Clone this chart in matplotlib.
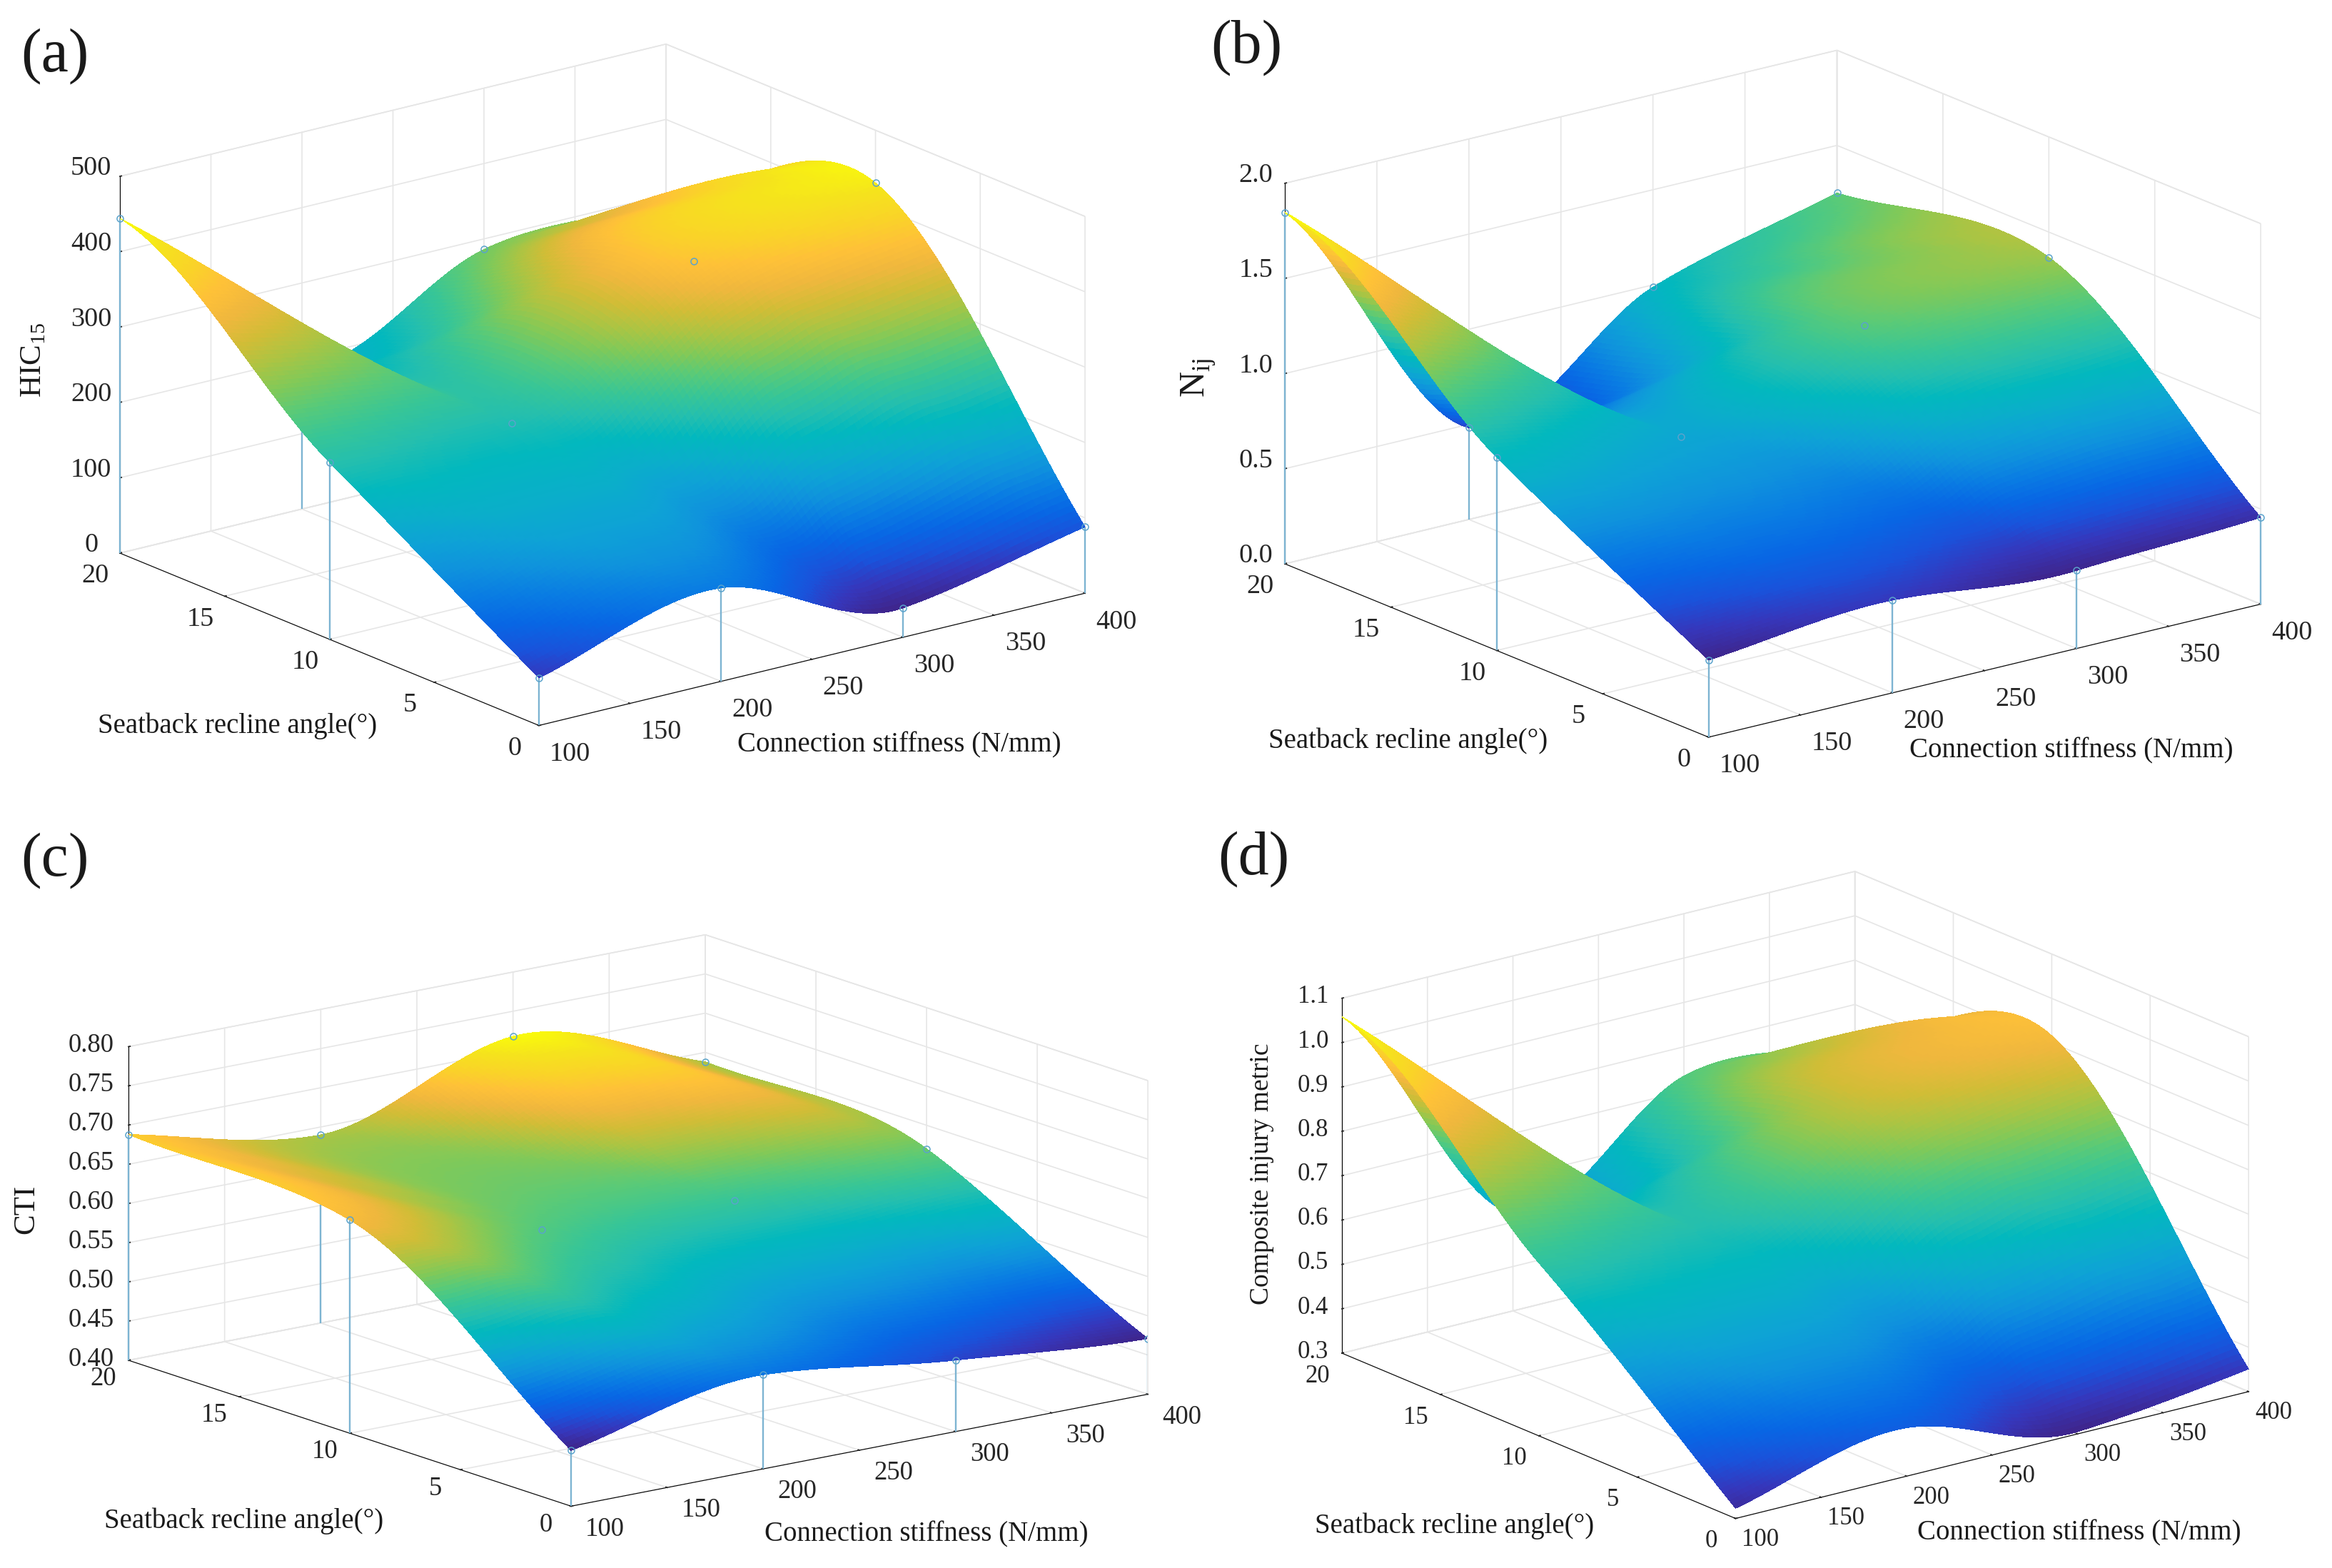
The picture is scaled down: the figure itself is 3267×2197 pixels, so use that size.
"""Four 3D response surfaces (HIC15, Nij, CTI, composite) over stiffness and recline angle."""
import numpy as np
import matplotlib
matplotlib.use("Agg")
import matplotlib.pyplot as plt
import matplotlib.tri as mtri
from matplotlib.colors import LinearSegmentedColormap
from mpl_toolkits.mplot3d import proj3d

plt.rcParams["font.family"] = ["Liberation Serif", "DejaVu Sans"]
plt.rcParams["mathtext.fontset"] = "custom"
plt.rcParams["mathtext.rm"] = "Liberation Serif"

W, H = 3267, 2197
DPI = 100
MESH = 130

# design points
stiffness = [100, 200, 300, 400]
recline = [0, 10, 20]
# rows = recline 0, 10, 20 ; columns = stiffness
hic15 = [[63, 124, 39, 88],
         [235, 228, 385, 430],
         [444, 190, 286, 289]]
nij = [[0.405, 0.487, 0.41, 0.456],
       [1.016, 0.89, 1.242, 1.367],
       [1.846, 0.482, 0.988, 1.25]]
cti = [[0.471, 0.52, 0.491, 0.471],
       [0.672, 0.612, 0.602, 0.62],
       [0.688, 0.64, 0.718, 0.638]]
composite = [[0.323, 0.409, 0.305, 0.351],
             [0.69, 0.653, 0.84, 0.916],
             [1.058, 0.52, 0.734, 0.71]]

x_ticks = [100, 150, 200, 250, 300, 350, 400]
y_ticks = [0, 5, 10, 15, 20]
hic_ticks = [0, 100, 200, 300, 400, 500]
nij_ticks = [0.0, 0.5, 1.0, 1.5, 2.0]
cti_ticks = [0.40, 0.45, 0.50, 0.55, 0.60, 0.65, 0.70, 0.75, 0.80]
comp_ticks = [0.3, 0.4, 0.5, 0.6, 0.7, 0.8, 0.9, 1.0, 1.1]

# MATLAB parula, sampled, blues pulled a little towards the print colours
parula = LinearSegmentedColormap.from_list("parula", [
    (0.2422, 0.1504, 0.5603), (0.2106, 0.2147, 0.7364), (0.1000, 0.3228, 0.8579),
    (0.0302, 0.4023, 0.8952), (0.0363, 0.4847, 0.8892), (0.0587, 0.5703, 0.8659),
    (0.0548, 0.6359, 0.8383), (0.0389, 0.6848, 0.7894), (0.0067, 0.7212, 0.7460),
    (0.1408, 0.7484, 0.6842), (0.2161, 0.7743, 0.5923), (0.3406, 0.7908, 0.4789),
    (0.5044, 0.7893, 0.3480), (0.6720, 0.7693, 0.2627), (0.8203, 0.7398, 0.2135),
    (0.9393, 0.7188, 0.2400), (0.9970, 0.7559, 0.2199), (0.9786, 0.8286, 0.1566),
    (0.9610, 0.8890, 0.1137), (0.9769, 0.9839, 0.0405)])


def smooth_surface(values, xq, yq):
    # the original surfaces are griddata 'cubic' fits through the design points, creases
    # included, so the mesh between points comes from matplotlib's cubic tri interpolator
    gx, gy = np.meshgrid(np.array(stiffness) / 300.0, np.array(recline) / 20.0)
    triangles = []
    for i in range(len(stiffness) - 1):
        for j in range(len(recline) - 1):
            a = j * len(stiffness) + i
            b, c, d = a + 1, a + len(stiffness), a + len(stiffness) + 1
            triangles += [[a, b, c], [b, d, c]]
    triang = mtri.Triangulation(gx.ravel(), gy.ravel(), triangles)
    interp = mtri.CubicTriInterpolator(triang, np.array(values, float).ravel(), kind="geom")
    # keep query points just inside the hull
    zq = interp(np.clip(xq / 300.0, 1 / 3 + 1e-6, 4 / 3 - 1e-6), np.clip(yq / 20.0, 1e-6, 1 - 1e-6))
    return np.ma.filled(zq, np.nan)


def place(ax, corner_a, target_a, corner_b, target_b):
    """Scale and shift a square 3D axes so two box corners land on given pixels."""

    def disp(p):
        ax.apply_aspect()
        px, py, _ = proj3d.proj_transform(p[0], p[1], p[2], ax.get_proj())
        return ax.transData.transform((px, py))

    for _ in range(3):
        a, b = disp(corner_a), disp(corner_b)
        pos = ax.get_position()
        want = np.hypot(target_b[0] - target_a[0], target_b[1] - target_a[1])
        side = pos.width * W * want / np.hypot(*(b - a))
        ax.set_position([pos.x0, pos.y0, side / W, side / H])
        a = disp(corner_a)
        pos = ax.get_position()
        dx, dy = target_a[0] - a[0], (H - target_a[1]) - a[1]
        ax.set_position([pos.x0 + dx / W, pos.y0 + dy / H, pos.width, pos.height])


def panel(fig, values, zticks, zfmt, elev, ratio, left_px, right_px, hidden, show_stems=True,
          tick_size=27.5, x_pad=32, z_pad=8, z_va="baseline"):
    ax = fig.add_axes([0.1, 0.1, 0.4, 0.4 * W / H], projection="3d", computed_zorder=False)
    ax.patch.set_alpha(0)
    ax.set_proj_type("ortho")
    ax.view_init(elev=elev, azim=-127.5)
    ax.set_box_aspect((1, 1, ratio))

    xq, yq = np.meshgrid(np.linspace(100, 400, MESH), np.linspace(0, 20, MESH))
    zq = smooth_surface(values, xq, yq)
    colors = parula((zq - np.nanmin(zq)) / (np.nanmax(zq) - np.nanmin(zq)))

    zmin, zmax = zticks[0], zticks[-1]
    if show_stems:
        gx, gy = np.meshgrid(stiffness, recline)
        gz = np.array(values, float)
        st = ax.stem(gx.ravel(), gy.ravel(), gz.ravel(), bottom=zmin,
                     linefmt="-", markerfmt=" ", basefmt=" ")
        st.stemlines.set_color("#7db4d2")
        st.stemlines.set_linewidth(1.7)
        st.stemlines.set_zorder(2)
    ax.plot_surface(xq, yq, zq, facecolors=colors, rstride=1, cstride=1, shade=False,
                    linewidth=0, antialiased=False, zorder=3)
    if show_stems:
        mask = np.array([(a, b) not in hidden for a, b in zip(gx.ravel(), gy.ravel())])
        ax.plot(gx.ravel()[mask], gy.ravel()[mask], gz.ravel()[mask], ls="none", marker="o",
                ms=6.5, mfc="none", mec="#5aa3cc", mew=1.1, zorder=4)

    ax.set_xlim(100, 400)
    ax.set_ylim(0, 20)
    ax.set_zlim(zmin, zmax)
    ax.set_xticks(x_ticks)
    ax.set_yticks(y_ticks)
    ax.set_zticks(zticks, labels=[zfmt % v for v in zticks])
    ax.tick_params(axis="both", labelsize=tick_size, colors="#262626")

    for axis in (ax.xaxis, ax.yaxis, ax.zaxis):
        axis.set_pane_color((1, 1, 1, 1))
        axis.pane.set_edgecolor("#e4e4e4")
        axis.pane.set_linewidth(1.1)
        axis._axinfo["grid"].update(color="#e6e6e6", linewidth=1.2)
        axis._axinfo["tick"].update(inward_factor=0.0, outward_factor=0.035,
                                    linewidth={True: 1.3, False: 1.3}, color="#555555")
        axis._axinfo["axisline"].update(color="#666666", linewidth=1.6)
    ax.tick_params(axis="x", pad=x_pad)
    ax.tick_params(axis="y", pad=16)
    ax.tick_params(axis="z", pad=z_pad)
    for axis, va in ((ax.xaxis, "bottom"), (ax.yaxis, "center"), (ax.zaxis, z_va)):
        for tick in axis.get_major_ticks():
            tick.label1.set_va(va)

    place(ax, (100, 20, zmin), left_px, (400, 0, zmin), right_px)
    return ax


def label(fig, x, y, s, size=28, **kw):
    fig.text(x / W, 1 - y / H, s, fontsize=size, ha="center", va="center", color="#1a1a1a", **kw)


fig = plt.figure(figsize=(W / DPI, H / DPI), dpi=DPI, facecolor="white")

panel(fig, hic15, hic_ticks, "%d", 18.4, 0.577, (168, 775), (1520, 832), [(200, 20), (400, 20)])
panel(fig, nij, nij_ticks, "%.1f", 18.3, 0.576, (1800, 790), (3167, 848), [])
panel(fig, cti, cti_ticks, "%.2f", 14.65, 0.446, (180, 1906), (1608, 1956), [],
      tick_size=26.5, x_pad=34, z_pad=12, z_va="center")
panel(fig, composite, comp_ticks, "%.1f", 18.8, 0.58, (1880, 1896), (3150, 1952), [], show_stems=False,
      tick_size=25, x_pad=24, z_va="center")

for x, y, s in [(77, 79, "(a)"), (1746, 67, "(b)"), (77, 1206, "(c)"), (1756, 1204, "(d)")]:
    label(fig, x, y, s, size=62)

label(fig, 47, 504, r"HIC$_{\mathrm{15}}$", size=31, rotation=90)
label(fig, 1679, 529, r"N$_{\mathrm{ij}}$", size=36, rotation=90)
label(fig, 37, 1694, "CTI", size=31, rotation=90)
label(fig, 1768, 1645, "Composite injury metric", size=27, rotation=90)

for x, y in [(333, 1017), (1973, 1038), (342, 2131), (2038, 2138)]:
    label(fig, x, y, "Seatback recline angle(°)")
for x, y in [(1260, 1044), (2902, 1052), (1298, 2150), (2913, 2148)]:
    label(fig, x, y, "Connection stiffness (N/mm)")

fig.savefig("out.png", dpi=DPI, facecolor="white")
